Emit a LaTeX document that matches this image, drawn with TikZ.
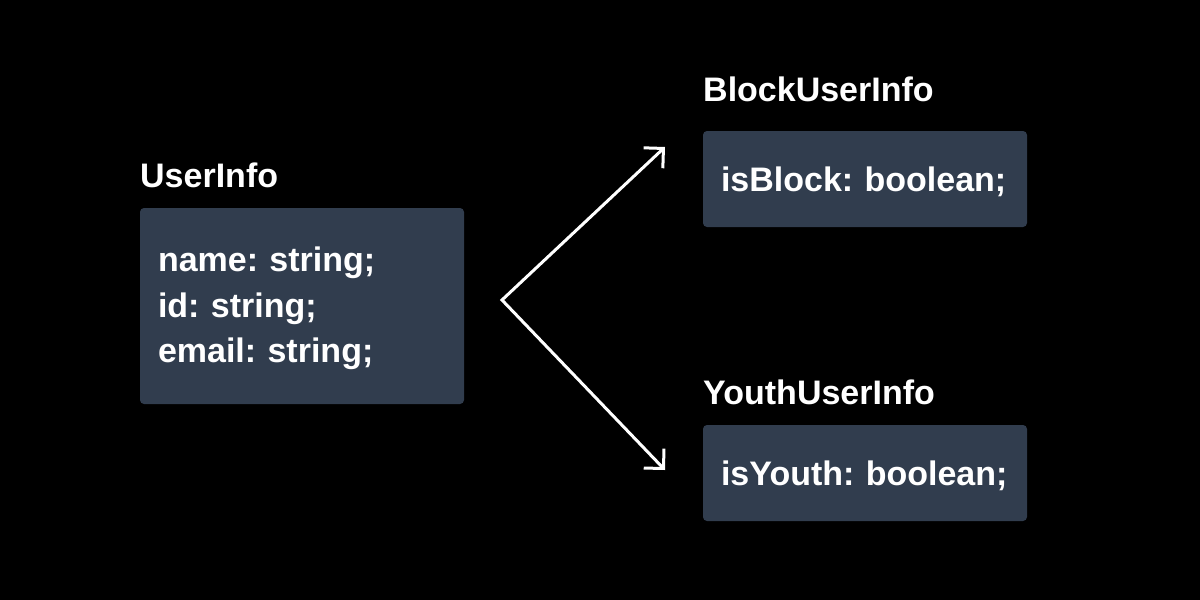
\documentclass[tikz,border=0pt]{standalone}
\usepackage{fontspec}
\setmainfont{Liberation Sans}
\usepackage{xcolor}
\usetikzlibrary{arrows.meta}
\definecolor{boxfill}{HTML}{313D4E}
\frenchspacing

\begin{document}
\begin{tikzpicture}[x=1pt,y=-1pt,
    typebox/.style={fill=boxfill, rounded corners=4pt, text=white,
        font=\bfseries\fontsize{34}{45.5}\selectfont,
        text width=288pt, inner xsep=18pt, inner ysep=0pt, align=left},
    typename/.style={text=white, font=\bfseries\fontsize{34}{40}\selectfont,
        anchor=base west, inner sep=0pt},
    flow/.style={draw=white, line width=3pt,
        {Straight Barb[length=14pt,width=28pt]}-{Straight Barb[length=14pt,width=28pt]}}]
    % Background
    \fill[black] (0,0) rectangle (1200,600);

    % Base type
    \node[typename] (userinfo label) at (140,187) {UserInfo};
    \node[typebox, minimum height=196pt, text height=30pt] (userinfo) at (302,306)
        {name: string;\\id: string;\\email: string;};

    % Derived types
    \foreach \name/\field/\ly/\by in {BlockUserInfo/isBlock/101/179, YouthUserInfo/isYouth/404/473} {
        \node[typename] (\name label) at (703,\ly) {\name};
        \node[typebox, minimum height=96pt, text height=26pt, text depth=2pt] (\name) at (865,\by) {\field: boolean;};
    }

    % Split arrows
    \coordinate (fork) at (502,300);
    \coordinate (block tip) at (665,147);
    \coordinate (youth tip) at (665,470);
    \draw[flow] (block tip) -- (fork) -- (youth tip);
\end{tikzpicture}
\end{document}
